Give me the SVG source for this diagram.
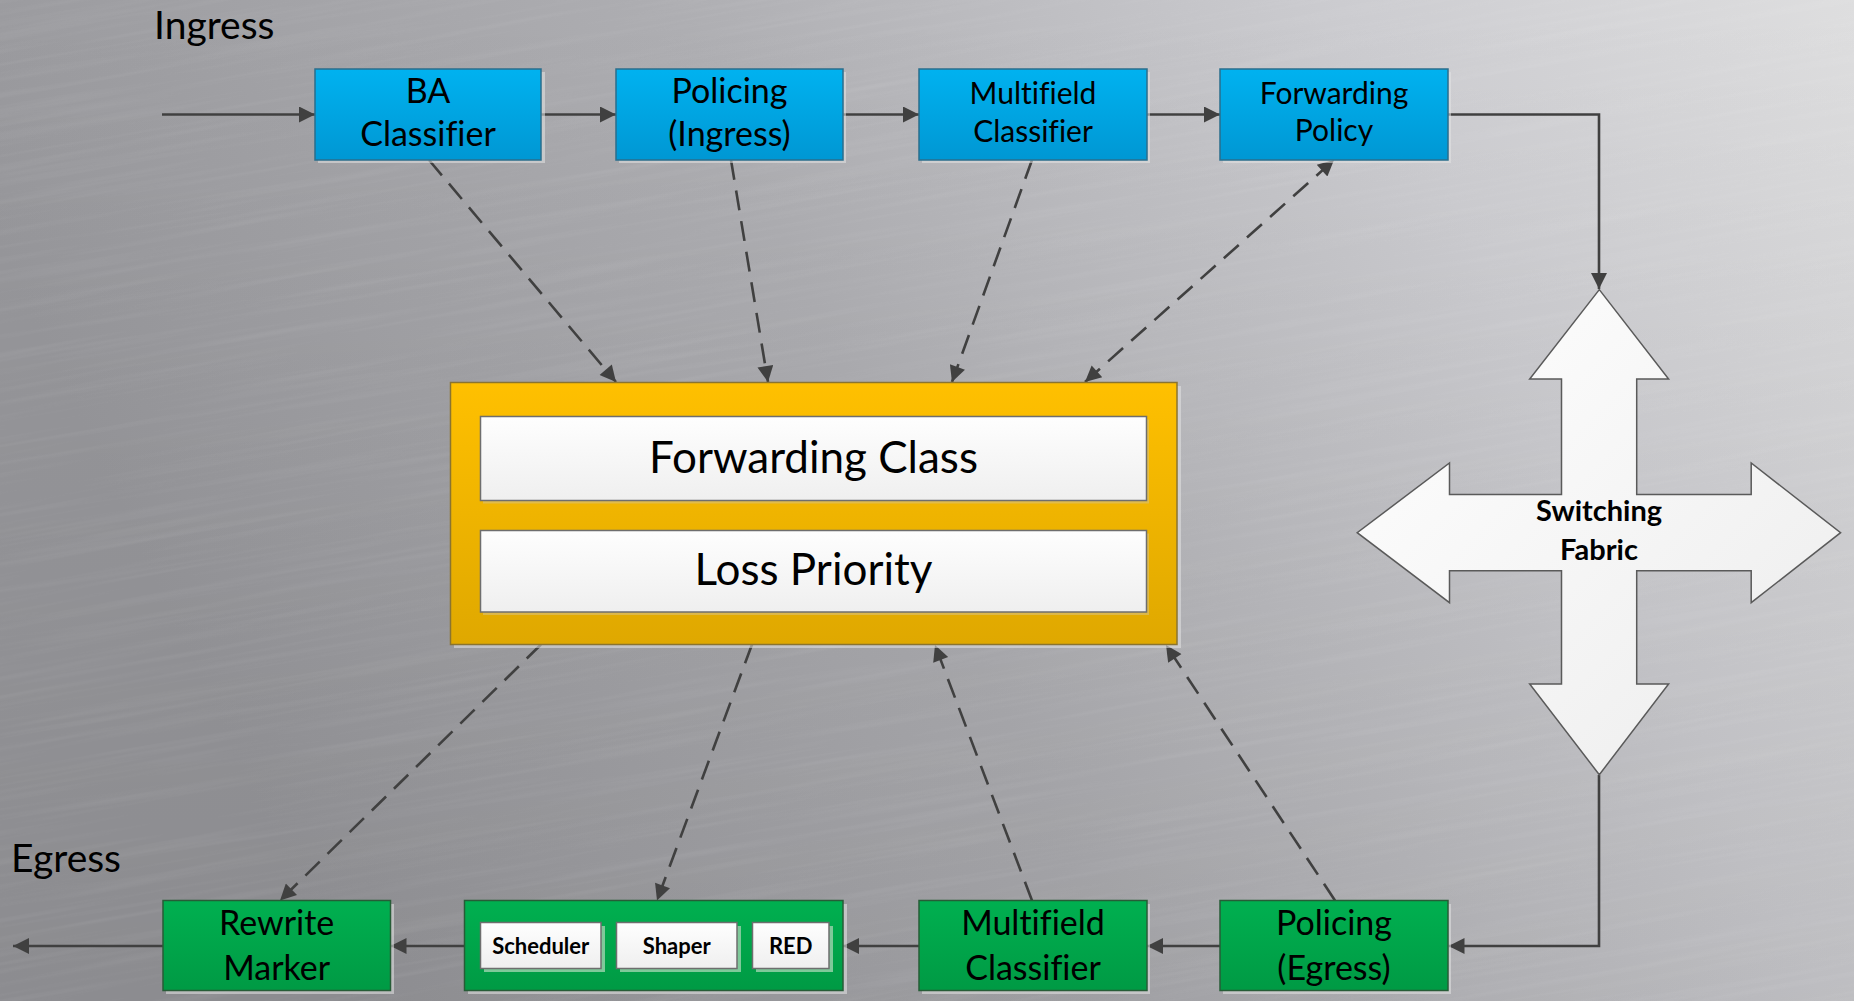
<svg xmlns="http://www.w3.org/2000/svg" width="1854" height="1001" viewBox="0 0 1854 1001">
  <defs>
    <linearGradient id="bgGrad" x1="0" y1="0.25" x2="1" y2="0">
      <stop offset="0" stop-color="#98989c"/>
      <stop offset="0.4" stop-color="#aeaeb2"/>
      <stop offset="0.75" stop-color="#cdcdd1"/>
      <stop offset="1" stop-color="#dededf"/>
    </linearGradient>
    <linearGradient id="bgShade" x1="0" y1="0" x2="0" y2="1">
      <stop offset="0" stop-color="#000" stop-opacity="0"/>
      <stop offset="1" stop-color="#000" stop-opacity="0.08"/>
    </linearGradient>
    <filter id="brushed" x="0" y="0" width="1" height="1">
      <feTurbulence type="fractalNoise" baseFrequency="0.004 0.16" numOctaves="3" seed="7"/>
      <feColorMatrix type="matrix" values="0 0 0 0 1  0 0 0 0 1  0 0 0 0 1  1 0 0 0 -0.45"/>
    </filter>
    <linearGradient id="blueGrad" x1="0" y1="0" x2="0" y2="1">
      <stop offset="0" stop-color="#00b2f0"/>
      <stop offset="1" stop-color="#0097d3"/>
    </linearGradient>
    <linearGradient id="greenGrad" x1="0" y1="0" x2="0" y2="1">
      <stop offset="0" stop-color="#00b050"/>
      <stop offset="1" stop-color="#009a44"/>
    </linearGradient>
    <linearGradient id="orangeGrad" x1="0" y1="0" x2="0" y2="1">
      <stop offset="0" stop-color="#ffc000"/>
      <stop offset="1" stop-color="#dfa800"/>
    </linearGradient>
    <linearGradient id="whiteGrad" x1="0" y1="0" x2="0" y2="1">
      <stop offset="0" stop-color="#fefefe"/>
      <stop offset="1" stop-color="#efefef"/>
    </linearGradient>
    <linearGradient id="fabricGrad" x1="0" y1="0" x2="1" y2="1">
      <stop offset="0" stop-color="#ffffff"/>
      <stop offset="1" stop-color="#ececec"/>
    </linearGradient>
    <marker id="arrow" viewBox="0 0 10 10" refX="10" refY="5" markerWidth="19" markerHeight="16" markerUnits="userSpaceOnUse" orient="auto-start-reverse">
      <path d="M0,0 L10,5 L0,10 Z" fill="#404040"/>
    </marker>
    <style>
      .solid { fill: none; stroke: #404040; stroke-width: 2.6; }
      .dashed { fill: none; stroke: #404040; stroke-width: 2.6; stroke-dasharray: 20 11; }
      .shadow { fill: #e4e4e4; opacity: 0.55; }
      .blue { fill: url(#blueGrad); stroke: #2a6e8c; stroke-width: 1.5; }
      .green { fill: url(#greenGrad); stroke: #275c37; stroke-width: 1.5; }
      .orange { fill: url(#orangeGrad); stroke: #8a7430; stroke-width: 1.5; }
      .white { fill: url(#whiteGrad); stroke: #6e6e6e; stroke-width: 1.5; }
      .fabric { fill: url(#fabricGrad); stroke: #5a5a5a; stroke-width: 1.5; }
      text { font-family: Lato, "Open Sans", sans-serif; fill: #000; text-anchor: middle; font-variant-ligatures: none; }
      .lbl { font-size: 34px; }
      .lblS { font-size: 30px; }
      .big { font-size: 44px; }
      .side { font-size: 39px; text-anchor: start; }
      .bold { font-weight: bold; }
    </style>
  </defs>

  <!-- brushed-metal backdrop -->
  <rect width="1854" height="1001" fill="url(#bgGrad)"/>
  <rect width="1854" height="1001" fill="url(#bgShade)"/>
  <rect x="-300" y="-300" width="2500" height="1600" filter="url(#brushed)" opacity="0.13" transform="rotate(-10 927 500)"/>

  <text class="side" x="154" y="39">Ingress</text>
  <text class="side" x="11" y="872">Egress</text>

  <!-- connectors -->
  <g id="connectors">
    <path class="solid" d="M162,114.5 H315" marker-end="url(#arrow)"/>
    <path class="solid" d="M541,114.5 H616" marker-end="url(#arrow)"/>
    <path class="solid" d="M843,114.5 H919" marker-end="url(#arrow)"/>
    <path class="solid" d="M1147,114.5 H1220" marker-end="url(#arrow)"/>
    <path class="solid" d="M1448,114.5 H1599 V289" marker-end="url(#arrow)"/>
    <path class="solid" d="M1599,775 V946 H1448.5" marker-end="url(#arrow)"/>
    <path class="solid" d="M1220,946 H1147" marker-end="url(#arrow)"/>
    <path class="solid" d="M919,946 H843" marker-end="url(#arrow)"/>
    <path class="solid" d="M464,946 H390.5" marker-end="url(#arrow)"/>
    <path class="solid" d="M163,946 H13" marker-end="url(#arrow)"/>

    <path class="dashed" d="M429,160 L616,382" marker-end="url(#arrow)"/>
    <path class="dashed" d="M731,160 L768,382" marker-end="url(#arrow)"/>
    <path class="dashed" d="M1032,160 L952,382" marker-end="url(#arrow)"/>
    <path class="dashed" d="M1085,382 L1334,160" marker-start="url(#arrow)" marker-end="url(#arrow)"/>
    <path class="dashed" d="M541,644.5 L280,900.5" marker-end="url(#arrow)"/>
    <path class="dashed" d="M752,644.5 L657,900.5" marker-end="url(#arrow)"/>
    <path class="dashed" d="M1032,900.5 L935,645" marker-end="url(#arrow)"/>
    <path class="dashed" d="M1335,900.5 L1166,645" marker-end="url(#arrow)"/>
  </g>

  <!-- ingress pipeline -->
  <g id="ba-classifier">
    <rect class="shadow" x="318" y="72" width="227" height="91"/>
    <rect class="blue" x="315" y="69" width="226" height="91"/>
    <text class="lbl" x="428" y="103">BA</text>
    <text class="lbl" x="428" y="146">Classifier</text>
  </g>
  <g id="policing-ingress">
    <rect class="shadow" x="619" y="72" width="227" height="91"/>
    <rect class="blue" x="616" y="69" width="227" height="91"/>
    <text class="lbl" x="729.5" y="103">Policing</text>
    <text class="lbl" x="729.5" y="146">(Ingress)</text>
  </g>
  <g id="multifield-ingress">
    <rect class="shadow" x="922" y="72" width="228" height="91"/>
    <rect class="blue" x="919" y="69" width="228" height="91"/>
    <text class="lblS" x="1033" y="104">Multifield</text>
    <text class="lblS" x="1033" y="141.5">Classifier</text>
  </g>
  <g id="forwarding-policy">
    <rect class="shadow" x="1223" y="72" width="228" height="91"/>
    <rect class="blue" x="1220" y="69" width="228" height="91"/>
    <text class="lblS" x="1334" y="104">Forwarding</text>
    <text class="lblS" x="1334" y="141">Policy</text>
  </g>

  <!-- classification state -->
  <g id="fc-lp">
    <rect class="shadow" x="454" y="386" width="727" height="262"/>
    <rect class="orange" x="450.5" y="382.5" width="726.5" height="262"/>
    <rect x="483" y="419.5" width="666" height="84" fill="#d9c27a" opacity="0.6"/>
    <rect class="white" x="480.5" y="416.5" width="666" height="84"/>
    <text class="big" x="813.5" y="473">Forwarding Class</text>
    <rect x="483" y="533.5" width="666" height="81.5" fill="#d9c27a" opacity="0.6"/>
    <rect class="white" x="480.5" y="530.5" width="666" height="81.5"/>
    <text class="big" x="813.5" y="585">Loss Priority</text>
  </g>

  <!-- switching fabric -->
  <g id="switching-fabric">
    <path class="fabric" d="M1599.3,289.6 L1668.6,379 L1636.7,379 L1636.7,494.5 L1751.2,494.5 L1751.2,463 L1840.6,532.7 L1751.2,602.7 L1751.2,570.8 L1636.7,570.8 L1636.7,684 L1668.6,684 L1599.3,774.7 L1529.7,684 L1561.5,684 L1561.5,570.8 L1449.5,570.8 L1449.5,602.7 L1357.2,532.7 L1449.5,463 L1449.5,494.5 L1561.5,494.5 L1561.5,379 L1529.7,379 Z"/>
    <text class="bold" x="1599" y="521" font-size="29">Switching</text>
    <text class="bold" x="1599" y="560" font-size="29">Fabric</text>
  </g>

  <!-- egress pipeline -->
  <g id="policing-egress">
    <rect class="shadow" x="1223" y="904" width="228" height="90"/>
    <rect class="green" x="1220" y="900.5" width="228" height="90"/>
    <text class="lbl" x="1334" y="935">Policing</text>
    <text class="lbl" x="1334" y="980">(Egress)</text>
  </g>
  <g id="multifield-egress">
    <rect class="shadow" x="922" y="904" width="228" height="90"/>
    <rect class="green" x="919" y="900.5" width="228" height="90"/>
    <text class="lbl" x="1033" y="935">Multifield</text>
    <text class="lbl" x="1033" y="980">Classifier</text>
  </g>
  <g id="queueing">
    <rect class="shadow" x="468" y="904" width="379" height="90"/>
    <rect class="green" x="464.5" y="900.5" width="378.5" height="90"/>
    <g id="scheduler">
      <rect x="484" y="926" width="121" height="46" fill="#7fc99a"/>
      <rect class="white" x="480.5" y="922.5" width="120.5" height="46"/>
      <text class="bold" x="540.7" y="953.5" font-size="22">Scheduler</text>
    </g>
    <g id="shaper">
      <rect x="620" y="926" width="121" height="46" fill="#7fc99a"/>
      <rect class="white" x="616.5" y="922.5" width="120.5" height="46"/>
      <text class="bold" x="676.7" y="953.5" font-size="22">Shaper</text>
    </g>
    <g id="red">
      <rect x="756" y="926" width="77" height="46" fill="#7fc99a"/>
      <rect class="white" x="752.5" y="922.5" width="76.5" height="46"/>
      <text class="bold" x="790.7" y="953.5" font-size="22">RED</text>
    </g>
  </g>
  <g id="rewrite-marker">
    <rect class="shadow" x="166" y="904" width="228" height="90"/>
    <rect class="green" x="163" y="900.5" width="227.5" height="90"/>
    <text class="lbl" x="276.7" y="935">Rewrite</text>
    <text class="lbl" x="276.7" y="980">Marker</text>
  </g>
</svg>
